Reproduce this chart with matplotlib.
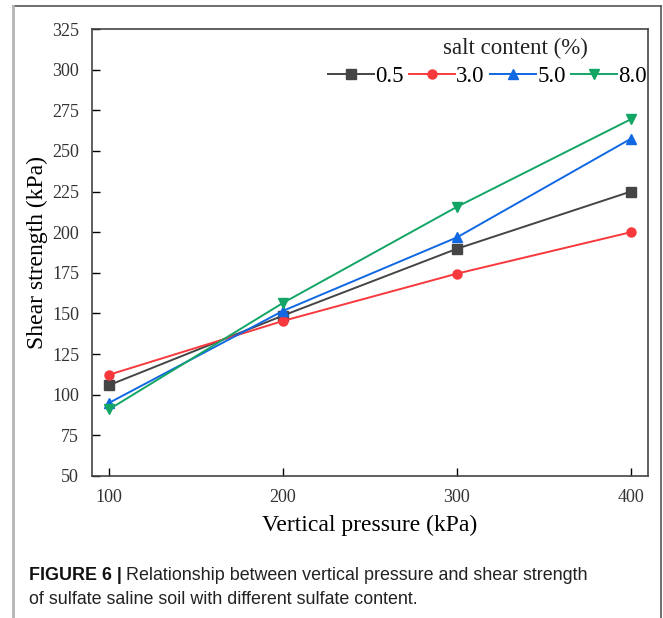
import matplotlib
matplotlib.use("Agg")
import matplotlib.pyplot as plt
from matplotlib.lines import Line2D

pressure = [100, 200, 300, 400]
salt_labels = ["0.5", "3.0", "5.0", "8.0"]
s_05 = [105.9, 148.7, 189.8, 225.0]
s_30 = [112.3, 145.4, 174.5, 200.0]
s_50 = [95.0, 151.6, 196.8, 257.5]
s_80 = [91.0, 156.5, 215.6, 269.5]
yticks = [50, 75, 100, 125, 150, 175, 200, 225, 250, 275, 300, 325]
xticks = [100, 200, 300, 400]

W, H = 663, 618
fig = plt.figure(figsize=(W / 100, H / 100), dpi=100)
fig.patch.set_facecolor("white")

def fx(px):
    return px / W

def fy(py):
    return 1 - py / H

left, right, top, bottom = 91.7, 648.3, 29.0, 476.0
ax = fig.add_axes([fx(left), fy(bottom), fx(right) - fx(left), fy(top) - fy(bottom)])

serif = ["Liberation Serif", "DejaVu Serif"]
series = [s_05, s_30, s_50, s_80]
colors = ["#454545", "#f7393d", "#1068e2", "#13a566"]
markers = ["s", "o", "^", "v"]
for vals, c, m, lab in zip(series, colors, markers, salt_labels):
    ax.plot(pressure, vals, color=c, marker=m, markersize=6.5, linewidth=1.4, label=lab)

ax.set_xlim(90, 410)
ax.set_ylim(50, 325)
ax.set_xticks(xticks)
ax.set_yticks(yticks)
ax.tick_params(direction="in", length=6, width=1, top=False, right=False, pad=9)
for lab in ax.get_xticklabels() + ax.get_yticklabels():
    lab.set_fontfamily(serif)
    lab.set_fontsize(13)
    lab.set_color("#333333")
for sp in ax.spines.values():
    sp.set_linewidth(1.2)
    sp.set_color("#444444")

ax.set_xlabel("Vertical pressure (kPa)", fontfamily=serif, fontsize=17, labelpad=7)
ax.set_ylabel("Shear strength (kPa)", fontfamily=serif, fontsize=17, labelpad=3)

leg = ax.legend(loc="upper right", bbox_to_anchor=(fx(647), fy(66)), bbox_transform=fig.transFigure,
                ncol=4, frameon=False,
                prop={"family": serif, "size": 16.5},
                handlelength=2.0, handletextpad=0.05, columnspacing=0.25,
                borderaxespad=0.0, borderpad=0.0)
fig.text(fx(515), fy(48), "salt content (%)", fontfamily=serif, fontsize=16.5,
         ha="center", va="center", color="#222222")

# caption
fs_cap = 12.9
t1 = fig.text(fx(29), fy(576), "FIGURE 6 |", fontfamily="Liberation Sans", fontweight="bold",
              fontsize=fs_cap, va="center", ha="left", color="#111111")
fig.canvas.draw()
bb = t1.get_window_extent(renderer=fig.canvas.get_renderer())
x_next = bb.x1 / W + 4 / W
fig.text(x_next, fy(576), "Relationship between vertical pressure and shear strength",
         fontfamily="Liberation Sans", fontsize=fs_cap, va="center", ha="left", color="#222222")
fig.text(fx(29), fy(600), "of sulfate saline soil with different sulfate content.",
         fontfamily="Liberation Sans", fontsize=fs_cap, va="center", ha="left", color="#222222")

# page frame
fig.add_artist(Line2D([fx(12.5), fx(661)], [fy(6), fy(6)], color="#555555", linewidth=1.2))
fig.add_artist(Line2D([fx(12.5), fx(12.5)], [fy(6), fy(618)], color="#b5b5b5", linewidth=2.0))
fig.add_artist(Line2D([fx(661), fx(661)], [fy(6), fy(618)], color="#555555", linewidth=1.2))

fig.savefig("out.png", dpi=100)
